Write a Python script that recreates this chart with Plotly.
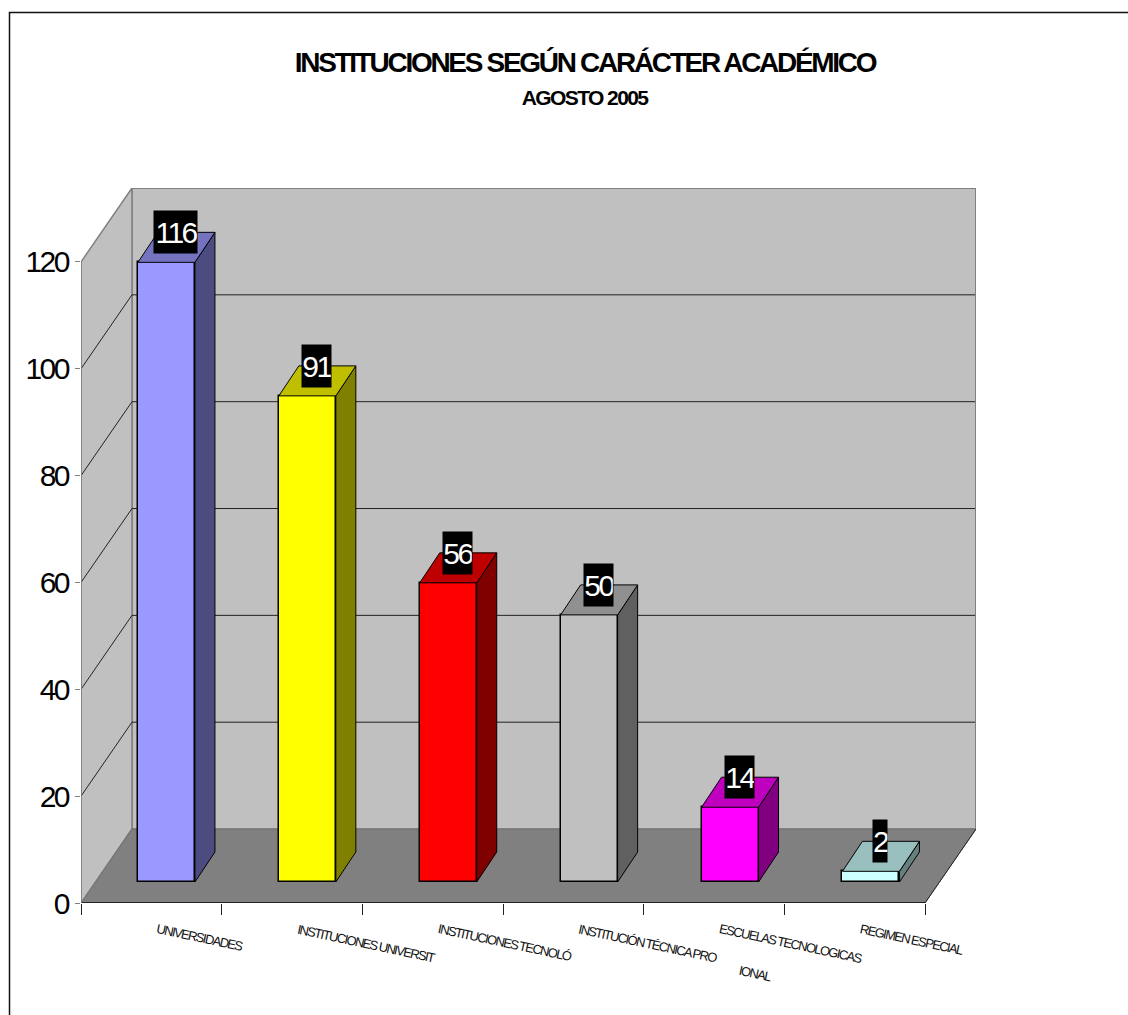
import math
import plotly.graph_objects as go

# ---- data ----
categories = ["UNIVERSIDADES", "INSTITUCIONES UNIVERSIT", "INSTITUCIONES TECNOLÓ",
              "INSTITUCIÓN TÉCNICA PRO", "ESCUELAS TECNOLOGICAS", "REGIMEN ESPECIAL"]
values = [116, 91, 56, 50, 14, 2]
colors = ["#9999FF", "#FFFF00", "#FF0000", "#C0C0C0", "#FF00FF", "#CCFFFF"]
y_ticks = [0, 20, 40, 60, 80, 100, 120]
title_text = "INSTITUCIONES SEGÚN CARÁCTER ACADÉMICO"
subtitle_text = "AGOSTO 2005"
wrapped_fragment = "IONAL"

# ---- geometry of the pseudo-3D box, in axis units ----
PX_X, PX_Y = 140.67, 5.342       # pixels per axis unit
L, T, R, B = 81, 188, 976, 903   # plot area in pixels
W, H = 1128, 1015
X_MAX = (R - L) / PX_X
Y_MAX = (B - T) / PX_Y
N = len(categories)
WALL_DX, WALL_DY = X_MAX - N, Y_MAX - 120
BAR_W = 57 / PX_X
BAR_STEP = 140.9 / PX_X
BASE_DX, BASE_DY = 15.1 / PX_X, 21 / PX_Y
BAR_DX, BAR_DY = 20 / PX_X, 30 / PX_Y

LABEL_SIZE, LABEL_SPACING, LABEL_ANGLE = 13, 1.5, 12
cos_a, sin_a = math.cos(math.radians(LABEL_ANGLE)), math.sin(math.radians(LABEL_ANGLE))


def centre(i):
    return 0.5 + BASE_DX + i * BAR_STEP


def shade(hex_color, k):
    r, g, b = (int(hex_color[i:i + 2], 16) for i in (1, 3, 5))
    return "#%02X%02X%02X" % (round(r * k), round(g * k), round(b * k))


def poly(points):
    return "M " + " L ".join(f"{x},{y}" for x, y in points) + " Z"


def seg(x0, y0, x1, y1, color, width=1):
    return dict(type="line", xref="x", yref="y", x0=x0, y0=y0, x1=x1, y1=y1,
                layer="below", line=dict(color=color, width=width))


fig = go.Figure()

shapes = [
    # back wall, side wall, floor
    dict(type="path", xref="x", yref="y", layer="below", fillcolor="#C0C0C0",
         line=dict(color="#808080", width=1.5),
         path=poly([(WALL_DX, WALL_DY), (WALL_DX, Y_MAX), (X_MAX, Y_MAX), (X_MAX, WALL_DY)])),
    dict(type="path", xref="x", yref="y", layer="below", fillcolor="#C0C0C0",
         line=dict(color="#808080", width=1.5),
         path=poly([(0, 0), (0, 120), (WALL_DX, Y_MAX), (WALL_DX, WALL_DY)])),
    dict(type="path", xref="x", yref="y", layer="below", fillcolor="#808080",
         line=dict(color="#707070", width=1),
         path=poly([(0, 0), (N, 0), (X_MAX, WALL_DY), (WALL_DX, WALL_DY)])),
]
for v in y_ticks[1:-1]:
    shapes.append(seg(WALL_DX, v + WALL_DY, X_MAX, v + WALL_DY, "#222222"))
    shapes.append(seg(0, v, WALL_DX, v + WALL_DY, "#222222"))

# frame around the chart, running off the page on the right and bottom
shapes.append(dict(type="rect", xref="paper", yref="paper",
                   x0=(9.5 - L) / (R - L), x1=(W + 20 - L) / (R - L),
                   y0=(B - (H + 20)) / (B - T), y1=(B - 12.5) / (B - T),
                   layer="above", line=dict(color="#111111", width=1.5)))

# front faces
fig.add_trace(go.Bar(
    x=[centre(i) for i in range(N)], y=values, base=BASE_DY, width=BAR_W,
    marker=dict(color=colors, line=dict(color="#000000", width=1.5)),
    showlegend=False, hoverinfo="skip"))

# top and side faces
for i, (v, c) in enumerate(zip(values, colors)):
    x0 = centre(i) - BAR_W / 2
    x1 = x0 + BAR_W
    y0, y1 = BASE_DY, BASE_DY + v
    fig.add_trace(go.Scatter(
        x=[x1, x1 + BAR_DX, x1 + BAR_DX, x1, x1], y=[y0, y0 + BAR_DY, y1 + BAR_DY, y1, y0],
        mode="lines", fill="toself", fillcolor=shade(c, 0.5),
        line=dict(color="#000000", width=1), showlegend=False, hoverinfo="skip"))
    fig.add_trace(go.Scatter(
        x=[x0, x0 + BAR_DX, x1 + BAR_DX, x1, x0], y=[y1, y1 + BAR_DY, y1 + BAR_DY, y1, y1],
        mode="lines", fill="toself", fillcolor=shade(c, 0.75),
        line=dict(color="#000000", width=1), showlegend=False, hoverinfo="skip"))

# edges that would be half clipped at the plot border
edge_sets = [
    ([0, N], [0, 0], "#222222", 2),
    ([N, X_MAX], [0, WALL_DY], "#222222", 1),
    ([0, 0], [0, 120], "#808080", 1.5),
    ([X_MAX, X_MAX], [WALL_DY, Y_MAX], "#808080", 2),
    ([WALL_DX, X_MAX], [Y_MAX, Y_MAX], "#808080", 2),
]
for xs, ys, col, wd in edge_sets:
    fig.add_trace(go.Scatter(x=xs, y=ys, mode="lines", cliponaxis=False,
                             line=dict(color=col, width=wd), showlegend=False, hoverinfo="skip"))

annotations = []
label_font = dict(family="Liberation Sans", size=LABEL_SIZE, color="#111111")
# value labels
for i, v in enumerate(values):
    annotations.append(dict(
        x=centre(i) + BAR_DX / 2, xshift=-1, y=BASE_DY + v + BAR_DY, xref="x", yref="y",
        text=str(v), showarrow=False, xanchor="center", yanchor="middle",
        width=14.4 * len(str(v)), height=42, bgcolor="#000000", borderpad=0,
        font=dict(family="Liberation Sans", size=30, color="#FFFFFF")))
# category labels: letter-spacing shrinks a label about its centre, so its start is moved back
for i, c in enumerate(categories):
    shrink = len(c) * LABEL_SPACING / 2
    annotations.append(dict(
        x=i + 0.512 - shrink * cos_a / PX_X, y=0, xref="x", yref="y",
        yshift=-16 + shrink * sin_a,
        text=c, showarrow=False, xanchor="left", yanchor="top", textangle=LABEL_ANGLE,
        font=label_font))
annotations.append(dict(
    x=4 + 0.79, y=0, xref="x", yref="y", yshift=-57,
    text=wrapped_fragment, showarrow=False, xanchor="center", yanchor="top",
    textangle=LABEL_ANGLE, font=label_font))
# subtitle
annotations.append(dict(
    x=(584 - L) / (R - L), y=(B - 97) / (B - T), xref="paper", yref="paper",
    text=f"<b>{subtitle_text}</b>", showarrow=False, xanchor="center", yanchor="middle",
    font=dict(family="Liberation Sans", size=21, color="#000000")))

fig.update_layout(
    width=W, height=H, margin=dict(l=L, r=W - R, t=T, b=H - B, autoexpand=False),
    paper_bgcolor="#FFFFFF", plot_bgcolor="rgba(0,0,0,0)", showlegend=False,
    hovermode=False, bargap=0,
    title=dict(text=f"<b>{title_text}</b>", x=585 / W, xanchor="center",
               y=1 - 62 / H, yanchor="middle",
               font=dict(family="Liberation Sans", size=28, color="#000000")),
    xaxis=dict(range=[0, X_MAX], tickmode="array", tickvals=list(range(N + 1)),
               showticklabels=False, ticks="outside", ticklen=11, tickwidth=1,
               tickcolor="#222222", showgrid=False, zeroline=False, showline=False),
    yaxis=dict(range=[0, Y_MAX], tickmode="array", tickvals=y_ticks,
               ticktext=[str(t) for t in y_ticks], ticks="outside", ticklen=5, tickwidth=1,
               tickcolor="#808080", showgrid=False, zeroline=False, showline=False,
               ticklabelstandoff=1,
               tickfont=dict(family="Liberation Sans", size=30, color="#000000")),
    shapes=shapes, annotations=annotations)

post = """
document.body.style.margin = '0';
function tighten() {
  var sp = {'28px': '-2.3px', '21px': '-1.6px', '30px': '-2.5px', '13px': '-1.5px'};
  document.querySelectorAll('svg text').forEach(function (t) {
    var s = sp[t.style.fontSize];
    if (s) t.style.letterSpacing = s;
  });
}
tighten();
setTimeout(tighten, 0);
"""
fig.write_html("out.html", config=dict(displayModeBar=False), post_script=post)
